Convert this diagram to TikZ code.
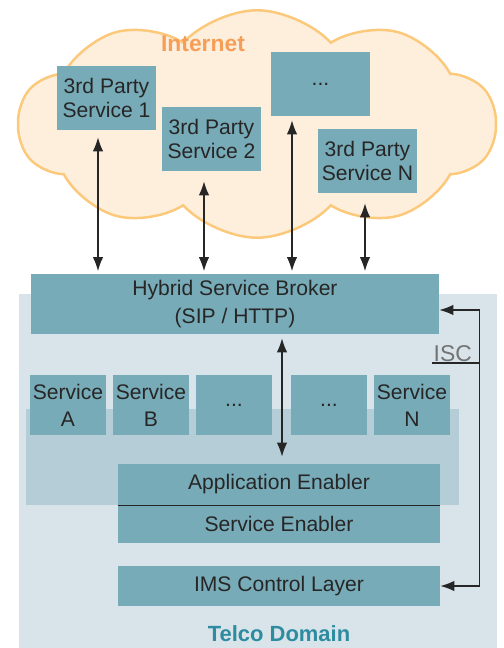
\documentclass[tikz,border=0pt]{standalone}
\usepackage{fontspec}
\setmainfont{Liberation Sans}
\usepackage{tikz}
\usetikzlibrary{arrows.meta,positioning,calc,shapes.symbols}
\usepackage{xcolor}
\definecolor{boxteal}{RGB}{120,171,184}
\definecolor{telcobg}{RGB}{216,228,234}
\definecolor{bandteal}{RGB}{181,205,214}
\definecolor{cloudfill}{RGB}{253,239,220}
\definecolor{cloudedge}{RGB}{252,200,122}
\definecolor{nettext}{RGB}{246,158,88}
\definecolor{telcotext}{RGB}{46,140,160}

\begin{document}
\begin{tikzpicture}[
    font=\fontsize{12}{14}\selectfont,
    cloudshape/.style={cloud,cloud puffs=10,cloud puff arc=95,aspect=2.1,draw=cloudedge,fill=cloudfill,line width=1.4pt,minimum width=9.55cm,minimum height=4.55cm,inner sep=0pt},
    cloudtitle/.style={font=\fontsize{13}{15}\selectfont\bfseries,text=nettext},
    domaintitle/.style={font=\fontsize{12.5}{15}\selectfont\bfseries,text=telcotext},
    partybox/.style={fill=boxteal,draw=none,minimum width=1.98cm,minimum height=1.28cm,align=center,inner sep=1pt,text=black!85},
    servicebox/.style={fill=boxteal,draw=none,minimum width=1.52cm,minimum height=1.20cm,align=center,inner sep=0pt,text=black!85,font=\fontsize{12}{15.5}\selectfont},
    layerbox/.style={fill=boxteal,draw=none,minimum width=6.44cm,align=center,inner sep=0pt,text=black!85},
    brokerbox/.style={fill=boxteal,draw=none,minimum width=8.16cm,minimum height=1.20cm,align=center,inner sep=1pt,text=black!85,font=\fontsize{12}{16}\selectfont},
    dualflow/.style={{Latex[length=2.8mm,width=2.1mm]}-{Latex[length=2.8mm,width=2.1mm]},draw=black!85,line width=0.8pt},
    isclabel/.style={font=\fontsize{13}{15}\selectfont,text=black!55,inner sep=0.5pt},
    iscline/.style={draw=black!85,line width=0.8pt},
    divline/.style={draw=black!85,line width=0.8pt}
  ]
    \useasboundingbox (0,0) rectangle (10.06,12.96);

    % telco domain and the application band
    \fill[telcobg] (0.38,0) rectangle (9.94,7.08);
    \fill[bandteal] (0.52,2.86) rectangle (9.18,4.78);

    % internet cloud
    \node[cloudshape] (internet) at (5.14,10.48) {};
    \node[cloudtitle] (internet-title) at (4.06,12.08) {Internet};

    \node[partybox] (s1) at (2.13,11.00) {3rd Party\\Service 1};
    \node[partybox] (s2) at (4.23,10.18) {3rd Party\\Service 2};
    \node[partybox] (sd) at (6.41,11.28) {...};
    \node[partybox] (sn) at (7.35,9.74) {3rd Party\\Service N};

    \node[brokerbox] (broker) at (4.70,6.88) {Hybrid Service Broker\\(SIP / HTTP)};

    \foreach \n/\dx/\gap in {s1/-0.17/0.14,s2/-0.15/0.20,sd/-0.57/0.08,sn/-0.05/0.20} {
      \coordinate (\n-tip) at ([xshift=\dx cm,yshift=-\gap cm]\n.south);
      \draw[dualflow,shorten >=0.05cm] (\n-tip) -- (\n-tip |- broker.north);
    }

    % telco services
    \node[servicebox] (sa) at (1.36,4.86) {Service\\A};
    \node[servicebox] (sb) at (3.02,4.86) {Service\\B};
    \node[servicebox] (sx) at (4.68,4.86) {...};
    \node[servicebox] (sy) at (6.58,4.86) {...};
    \node[servicebox] (sz) at (8.24,4.86) {Service\\N};

    \node[layerbox,minimum height=0.82cm] (app) at (5.58,3.27) {Application Enabler};
    \node[layerbox,minimum height=0.76cm] (enabler) at (5.58,2.48) {Service Enabler};
    \draw[divline] (app.south west) -- (app.south east);
    \node[layerbox,minimum height=0.80cm] (ims) at (5.58,1.24) {IMS Control Layer};

    \coordinate (broker-out) at ([xshift=0.94cm]broker.south);
    \draw[dualflow,shorten <=0.08cm,shorten >=0.14cm] (broker-out) -- (broker-out |- app.north);

    % ISC link
    \draw[dualflow] ([yshift=-0.12cm]broker.east) -- ++(0.80,0) coordinate (isc-top) |- (ims.east);
    \node[isclabel,anchor=south east] (isc) at (9.46,5.70) {ISC};
    \draw[iscline] (isc.south west) -- (isc.south west -| isc-top);

    \node[domaintitle] (telco-title) at (5.58,0.28) {Telco Domain};
  \end{tikzpicture}
\end{document}
